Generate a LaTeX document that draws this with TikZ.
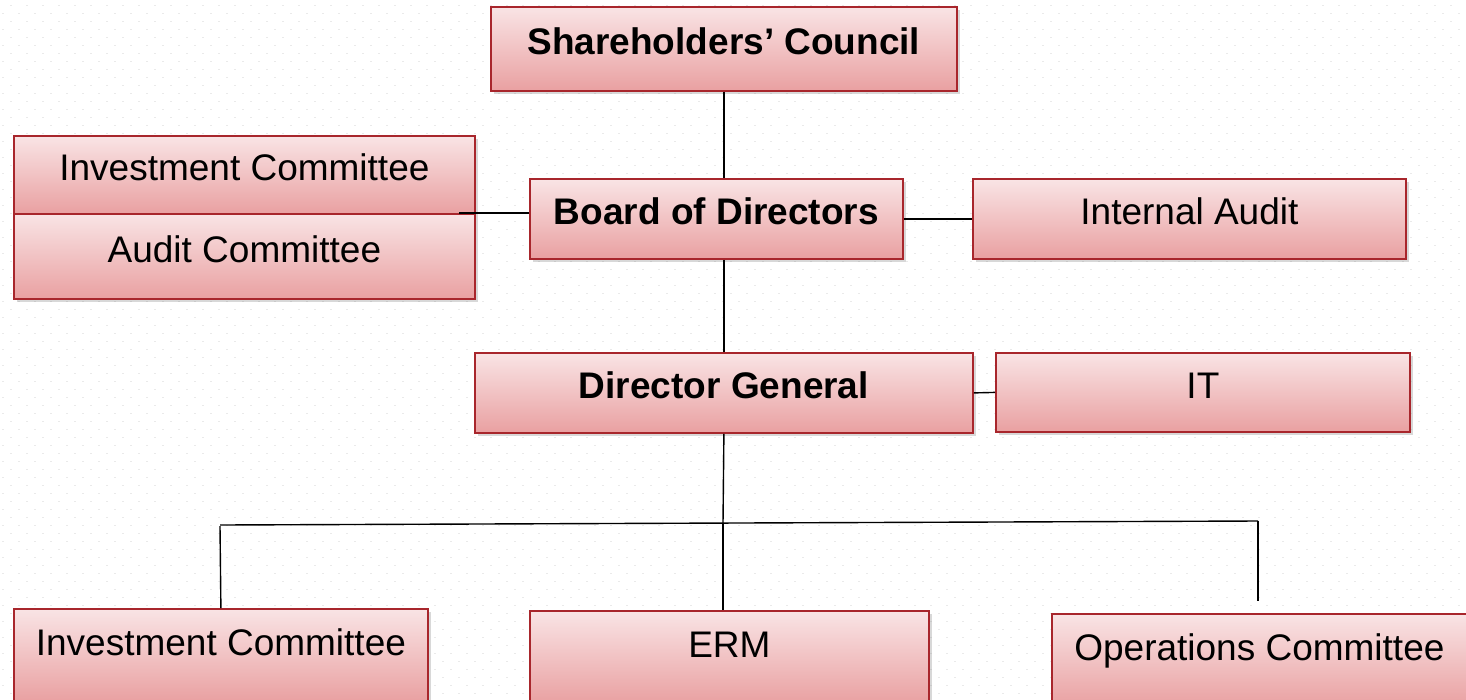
\documentclass[tikz,border=0pt]{standalone}
\usepackage{fontspec}
\setmainfont{Liberation Sans}
\usetikzlibrary{shadows}

\definecolor{boxred}{RGB}{168,38,44}
\definecolor{boxtop}{RGB}{249,228,229}
\definecolor{boxbot}{RGB}{233,160,161}
\definecolor{dotgray}{RGB}{234,234,234}

\begin{document}
\begin{tikzpicture}[x=1pt,y=-1pt]
        \tikzstyle{unit}=[draw=boxred, line width=1.8pt, top color=boxtop, bottom color=boxbot,
            drop shadow={opacity=0.3, shadow xshift=3pt, shadow yshift=-3pt},
            anchor=north west, inner sep=0pt, text height=27pt, text depth=15pt,
            font=\fontsize{37}{40}\selectfont]
        \tikzstyle{head}=[unit, font=\fontsize{37}{40}\selectfont\bfseries]
        \tikzstyle{low}=[unit, minimum height=93pt, text depth=27pt]
        \tikzstyle{wire}=[line width=1.4pt, black]

        \useasboundingbox (0,0) rectangle (1466,699);
        \clip (0,0) rectangle (1466,699);
        \fill[white] (0,0) rectangle (1466,699);

        % dotted paper
        \foreach \r in {0,...,87} {
            \pgfmathsetmacro\ph{ifthenelse(mod(\r,2)==0,5.75,13.75)}
            \draw[dotgray, line width=1.5pt, dash pattern=on 1.5pt off 14.5pt, dash phase=\ph pt]
                (0,5.5+8*\r) -- (1466,5.5+8*\r);
        }

        \node[head, minimum width=466pt, minimum height=84pt] (sc)   at (490,6)   {Shareholders’ Council};
        \node[unit, minimum width=461pt, minimum height=78pt] (invc) at (13,135)  {Investment Committee};
        \node[unit, minimum width=461pt, minimum height=85pt] (audc) at (13,213)  {Audit Committee};
        \node[head, minimum width=373pt, minimum height=80pt] (bod)  at (529,178) {Board of Directors};
        \node[unit, minimum width=433pt, minimum height=80pt] (ia)   at (972,178) {Internal Audit};
        \node[head, minimum width=498pt, minimum height=80pt] (dg)   at (474,352) {Director General};
        \node[unit, minimum width=414pt, minimum height=79pt] (it)   at (995,352) {IT};

        \node[low, minimum width=414pt]  (invb) at (13,608)   {Investment Committee};
        \node[low, minimum width=399pt]  (erm)  at (529,610)  {ERM};
        \node[low, minimum width=415pt]  (ops)  at (1051,613) {Operations Committee};

        \coordinate (cmt)  at (459,213);
        \coordinate (busL) at (220,525);
        \coordinate (busM) at (723,523);
        \coordinate (busR) at (1258,521);
        \coordinate (opsT) at (1258,601);

        \draw[wire] (sc.south) -- (sc.south |- bod.north);
        \draw[wire] (cmt) -- (cmt -| bod.west);
        \draw[wire] (bod.east) -- (ia.west);
        \draw[wire] (dg.north |- bod.south) -- (dg.north);
        \draw[wire] (dg.east) -- (it.west);
        \draw[wire] (dg.south) -- (busM);
        \draw[wire] (busL) -- (busR);
        \draw[wire] ([yshift=-1pt]busL) -- (invb.north);
        \draw[wire] (busM) -- (busM |- erm.north);
        \draw[wire] (busR) -- (opsT);
\end{tikzpicture}
\end{document}
